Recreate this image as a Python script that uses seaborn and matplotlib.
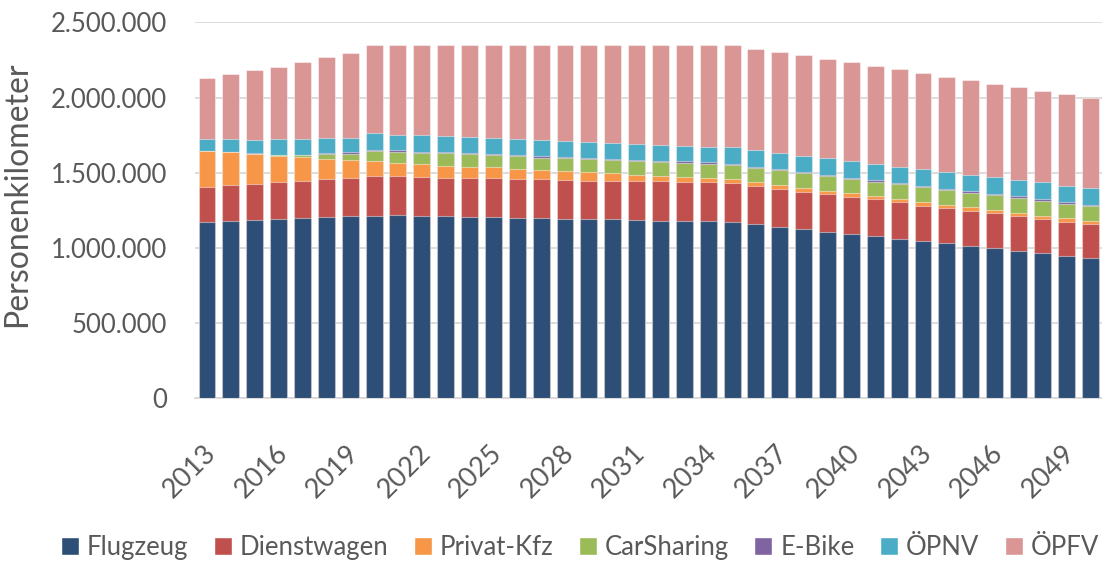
import pandas as pd
import numpy as np
import matplotlib
matplotlib.use('Agg')
import matplotlib.pyplot as plt
import matplotlib.transforms as mtransforms
import seaborn as sns
from matplotlib.patches import Patch
from matplotlib.ticker import FuncFormatter

# values in thousand person-km
years = [str(y) for y in range(2013, 2051)]
flugzeug = [1176, 1183, 1188, 1194, 1201, 1208, 1212, 1216, 1219, 1214, 1210, 1208, 1206,
            1201, 1199, 1196, 1192, 1190, 1186, 1183, 1179, 1179, 1172, 1159, 1143, 1126,
            1110, 1094, 1079, 1063, 1048, 1033, 1017, 1001, 983, 968, 950, 937]
dienstwagen = [233, 235, 241, 242, 248, 250, 257, 264, 257, 258, 259, 261, 259,
               259, 257, 258, 257, 259, 259, 262, 261, 259, 260, 257, 253, 250,
               249, 245, 244, 240, 235, 236, 232, 229, 229, 226, 226, 222]
privat_kfz = [238, 220, 196, 179, 156, 133, 116, 96, 89, 86, 80, 73, 73,
              67, 64, 60, 58, 49, 42, 35, 34, 27, 26, 22, 25, 25,
              22, 26, 20, 24, 26, 20, 23, 24, 22, 22, 23, 22]
carsharing = [0, 2, 3, 5, 12, 36, 42, 71, 77, 75, 80, 83, 78,
              82, 82, 82, 84, 87, 91, 92, 93, 95, 96, 96, 95, 97,
              97, 95, 99, 96, 96, 98, 97, 98, 100, 98, 97, 98]
ebike = [0, 0, 1, 2, 3, 6, 9, 8, 9, 9, 9, 8, 11,
         9, 9, 9, 9, 8, 9, 8, 9, 9, 8, 8, 9, 11,
         9, 9, 10, 11, 9, 9, 10, 9, 9, 11, 11, 8]
oepnv = [78, 84, 90, 100, 102, 98, 99, 107, 104, 107, 104, 105, 104,
         107, 107, 106, 105, 107, 106, 107, 106, 106, 109, 109, 108, 106,
         111, 109, 110, 108, 111, 113, 110, 111, 109, 111, 109, 112]
oepfv = [409, 435, 462, 484, 512, 537, 564, 590, 597, 603, 610, 614, 621,
         627, 634, 641, 647, 652, 659, 665, 670, 677, 681, 674, 672, 668,
         659, 656, 648, 646, 639, 630, 628, 621, 619, 610, 608, 602]

series = ['Flugzeug', 'Dienstwagen', 'Privat-Kfz', 'CarSharing', 'E-Bike', 'ÖPNV', 'ÖPFV']
colors = ['#2d4e76', '#c0504d', '#f79646', '#9bbb59', '#8064a2', '#4bacc6', '#d99694']

df = pd.DataFrame({'year': years, 'Flugzeug': flugzeug, 'Dienstwagen': dienstwagen,
                   'Privat-Kfz': privat_kfz, 'CarSharing': carsharing, 'E-Bike': ebike,
                   'ÖPNV': oepnv, 'ÖPFV': oepfv})
cum = df[series].cumsum(axis=1) * 1000

sns.set_style('white')
plt.rcParams['font.family'] = ['Lato', 'DejaVu Sans']
grey = '#595959'

fig = plt.figure(figsize=(11.02, 5.62), dpi=100)
ax = fig.add_axes([0.177, 0.291, 0.823, 0.669])

# stacked bars: draw cumulative totals from the top series down
for name, col in reversed(list(zip(series, colors))):
    sns.barplot(x=df['year'], y=cum[name], color=col, width=0.71, ax=ax,
                edgecolor=(1, 1, 1, 0.45), linewidth=0.8, saturation=1, zorder=3)

ax.set_ylim(0, 2500000)
ax.set_xlim(-0.5, len(years) - 0.5)
ax.set_yticks(np.arange(0, 2500001, 500000))
ax.yaxis.set_major_formatter(FuncFormatter(lambda v, p: f'{int(v):,}'.replace(',', '.')))
ax.grid(axis='y', color='#d9d9d9', linewidth=1.3, zorder=0)
ax.set_axisbelow(True)

ax.set_xticks(range(0, len(years), 3))
ax.set_xticklabels(years[::3], rotation=45, ha='right', rotation_mode='anchor')
ax.tick_params(axis='y', labelsize=18.5, colors=grey, length=0, pad=20)
ax.tick_params(axis='x', labelsize=19.5, colors=grey, length=0, pad=30)
shift = mtransforms.ScaledTranslation(-4 / 100, 0, fig.dpi_scale_trans)
for lbl in ax.get_xticklabels():
    lbl.set_transform(lbl.get_transform() + shift)
ax.set_xlabel('')
ax.set_ylabel('Personenkilometer', fontsize=23, color=grey)
ax.yaxis.set_label_coords(-0.18, 0.544)

for s in ['top', 'right', 'left']:
    ax.spines[s].set_visible(False)
ax.spines['bottom'].set_color('#d9d9d9')
ax.spines['bottom'].set_linewidth(1.3)

handles = [Patch(facecolor=c, label=n) for n, c in zip(series, colors)]
fig.legend(handles=handles, loc='center', bbox_to_anchor=(0.526, 0.026), ncol=7,
           frameon=False, fontsize=18.5, handlelength=0.7, handleheight=0.7,
           handletextpad=0.3, columnspacing=1.0, labelcolor=grey)

fig.savefig('out.png', dpi=100)
